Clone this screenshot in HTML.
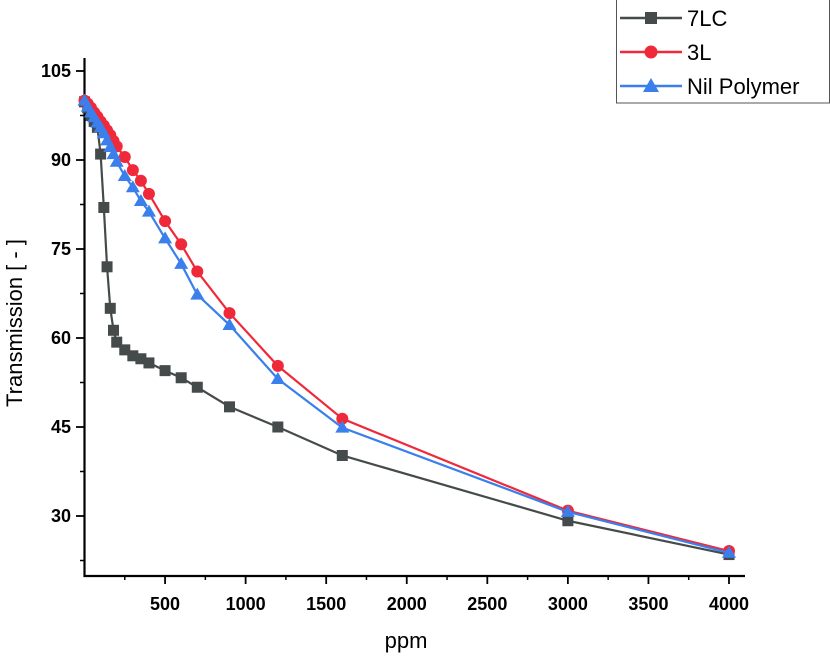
<!DOCTYPE html>
<html><head><meta charset="utf-8"><style>
body{margin:0;background:#fff;}
svg{display:block;font-family:"Liberation Sans",sans-serif;}
</style></head><body>
<svg id="chart" width="830" height="658" viewBox="0 0 830 658" xmlns="http://www.w3.org/2000/svg">
<g id="axes"></g>
<g id="series"></g>
<text x="22" y="323" font-size="22" text-anchor="middle" transform="rotate(-90 22 323)">Transmission [ - ]</text>
<text x="406" y="648" font-size="22" text-anchor="middle">ppm</text>
<g>
<rect x="616.5" y="-1" width="213" height="104" fill="#fff" stroke="#555" stroke-width="1"/>
<g><line x1="620" y1="18" x2="682" y2="18" stroke="#454a4a" stroke-width="2.5"/><rect x="645" y="12" width="12" height="12" fill="#454a4a"/><text x="687" y="26" font-size="22">7LC</text></g>
<g><line x1="620" y1="52" x2="682" y2="52" stroke="#f0293a" stroke-width="2.5"/><circle cx="651" cy="52" r="6.5" fill="#f0293a"/><text x="687" y="60" font-size="22">3L</text></g>
<g><line x1="620" y1="86" x2="682" y2="86" stroke="#3a7fec" stroke-width="2.5"/><polygon points="651,78 659,92 643,92" fill="#3a7fec"/><text x="687" y="94" font-size="22">Nil Polymer</text></g>
</g>
</svg>
<script>
const xTicks=[500,1000,1500,2000,2500,3000,3500,4000];
const yTicks=[30,45,60,75,90,105];
const ppm=[0,20,40,60,80,100,120,140,160,180,200,250,300,350,400,500,600,700,900,1200,1600,3000,4000];
const lc7=[99.8,98.8,97.5,96.5,95.5,91,82,72,65,61.3,59.3,58,57,56.5,55.8,54.5,53.3,51.7,48.4,45,40.2,29.2,23.5];
const l3=[100,99.5,98.8,98,97.3,96.5,95.8,95,94.2,93.2,92.3,90.5,88.3,86.5,84.3,79.7,75.8,71.2,64.2,55.3,46.4,30.9,24.1];
const nil=[100,99,98,97.2,96.3,95.5,94.5,93.3,92.2,91,89.7,87.3,85.4,83.1,81.3,76.8,72.5,67.3,62.2,53.1,44.9,30.7,23.8];
const NS='http://www.w3.org/2000/svg';
const X0=84.5,XS=(729-84.5)/4000;
const sx=v=>X0+v*XS;
const sy=v=>516-(v-30)*(89/15);
function el(t,a,p){const e=document.createElementNS(NS,t);for(const k in a)e.setAttribute(k,a[k]);p.appendChild(e);return e;}
const ax=document.getElementById('axes');
const axl=el('path',{d:`M84.5 58 V576 H745`,fill:'none',stroke:'#000','stroke-width':2.2},ax);


xTicks.forEach(v=>{
 el('line',{x1:sx(v),x2:sx(v),y1:576,y2:584,stroke:'#000','stroke-width':1.8},ax);
 el('line',{x1:sx(v-250),x2:sx(v-250),y1:576,y2:580,stroke:'#000','stroke-width':1.5},ax);
 const t=el('text',{x:sx(v),y:610,'font-size':18,'font-weight':'bold','text-anchor':'middle'},ax);
 t.textContent=v;
 
 
});
yTicks.forEach(v=>{
 el('line',{x1:76,x2:84.5,y1:sy(v),y2:sy(v),stroke:'#000','stroke-width':1.8},ax);
 el('line',{x1:80,x2:84.5,y1:sy(v-7.5),y2:sy(v-7.5),stroke:'#000','stroke-width':1.5},ax);
 const t=el('text',{x:71,y:sy(v)+6,'font-size':18,'font-weight':'bold','text-anchor':'end'},ax);
 t.textContent=v;
 
 
});
const sg=document.getElementById('series');
function draw(vals,color,shape,name){
 const g=el('g',{},sg);
 
 
 el('polyline',{points:ppm.map((p,i)=>sx(p)+','+sy(vals[i])).join(' '),fill:'none',stroke:color,'stroke-width':2.2},g);
 ppm.forEach((p,i)=>{const x=sx(p),y=sy(vals[i]);let m;
  if(shape==='sq')m=el('rect',{x:x-5.5,y:y-5.5,width:11,height:11,fill:color},g);
  else if(shape==='c')m=el('circle',{cx:x,cy:y,r:6,fill:color},g);
  else m=el('polygon',{points:`${x},${y-7} ${x+7},${y+5} ${x-7},${y+5}`,fill:color},g);
  
  
 });
}
draw(lc7,'#454a4a','sq','series-7lc');
draw(l3,'#f0293a','c','series-3l');
draw(nil,'#3a7fec','t','series-nil-polymer');
</script>
</body></html>
